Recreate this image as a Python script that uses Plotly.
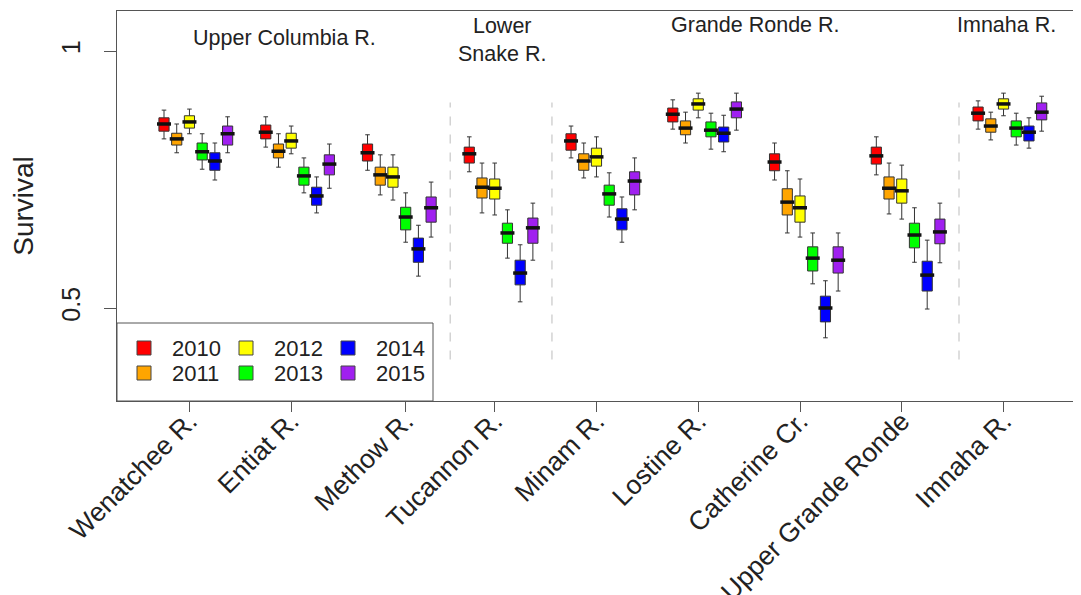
import plotly.graph_objects as go

# ---------------- data ----------------
SITES = ["Wenatchee R.", "Entiat R.", "Methow R.", "Tucannon R.", "Minam R.",
         "Lostine R.", "Catherine Cr.", "Upper Grande Ronde", "Imnaha R."]
YEARS = ["2010", "2011", "2012", "2013", "2014", "2015"]
COLORS = ["#FF0000", "#FFA500", "#FFFF00", "#00FF00", "#0000FF", "#A020F0"]
GROUPS = ["Upper Columbia R.", "Lower<br>Snake R.", "Grande Ronde R.", "Imnaha R."]

HIGH = {
    "2010": [0.885, 0.872, 0.837, 0.833, 0.854, 0.905, 0.821, 0.833, 0.903],
    "2011": [0.858, 0.839, 0.798, 0.782, 0.821, 0.881, 0.767, 0.782, 0.881],
    "2012": [0.887, 0.854, 0.798, 0.782, 0.833, 0.918, 0.751, 0.778, 0.918],
    "2013": [0.839, 0.792, 0.724, 0.691, 0.763, 0.879, 0.646, 0.695, 0.879],
    "2014": [0.821, 0.755, 0.661, 0.623, 0.716, 0.875, 0.553, 0.632, 0.870],
    "2015": [0.872, 0.819, 0.745, 0.704, 0.792, 0.918, 0.646, 0.704, 0.912],
}
Q3 = {
    "2010": [0.870, 0.856, 0.819, 0.813, 0.839, 0.889, 0.800, 0.813, 0.891],
    "2011": [0.840, 0.819, 0.774, 0.753, 0.800, 0.864, 0.732, 0.755, 0.868],
    "2012": [0.874, 0.840, 0.774, 0.751, 0.811, 0.907, 0.718, 0.751, 0.907],
    "2013": [0.821, 0.774, 0.696, 0.665, 0.739, 0.862, 0.619, 0.665, 0.864],
    "2014": [0.802, 0.735, 0.636, 0.593, 0.693, 0.852, 0.523, 0.591, 0.854],
    "2015": [0.854, 0.798, 0.716, 0.675, 0.765, 0.901, 0.619, 0.673, 0.899],
}
MEDIAN = {
    "2010": [0.858, 0.842, 0.802, 0.800, 0.825, 0.877, 0.784, 0.796, 0.879],
    "2011": [0.829, 0.805, 0.759, 0.735, 0.786, 0.850, 0.706, 0.733, 0.854],
    "2012": [0.862, 0.825, 0.755, 0.733, 0.794, 0.897, 0.695, 0.728, 0.897],
    "2013": [0.804, 0.757, 0.677, 0.646, 0.722, 0.846, 0.597, 0.642, 0.850],
    "2014": [0.786, 0.718, 0.615, 0.568, 0.673, 0.840, 0.500, 0.564, 0.842],
    "2015": [0.839, 0.780, 0.695, 0.656, 0.747, 0.887, 0.593, 0.648, 0.881],
}
Q1 = {
    "2010": [0.844, 0.829, 0.786, 0.782, 0.807, 0.862, 0.767, 0.780, 0.864],
    "2011": [0.817, 0.792, 0.739, 0.714, 0.768, 0.837, 0.681, 0.712, 0.842],
    "2012": [0.850, 0.811, 0.735, 0.712, 0.776, 0.885, 0.667, 0.704, 0.887],
    "2013": [0.788, 0.739, 0.652, 0.626, 0.700, 0.833, 0.572, 0.617, 0.833],
    "2014": [0.768, 0.700, 0.589, 0.545, 0.652, 0.823, 0.473, 0.533, 0.825],
    "2015": [0.817, 0.759, 0.667, 0.626, 0.720, 0.870, 0.568, 0.625, 0.866],
}
LOW = {
    "2010": [0.829, 0.813, 0.768, 0.765, 0.792, 0.848, 0.749, 0.759, 0.848],
    "2011": [0.802, 0.774, 0.720, 0.685, 0.753, 0.821, 0.646, 0.683, 0.827],
    "2012": [0.839, 0.800, 0.710, 0.681, 0.755, 0.870, 0.638, 0.673, 0.874],
    "2013": [0.770, 0.724, 0.628, 0.597, 0.677, 0.809, 0.547, 0.589, 0.817],
    "2014": [0.749, 0.685, 0.562, 0.512, 0.628, 0.804, 0.442, 0.498, 0.811],
    "2015": [0.802, 0.733, 0.638, 0.593, 0.691, 0.846, 0.533, 0.588, 0.844],
}

# ---------------- layout constants (window pixels) ----------------
OFF = 8                    # browser body margin
WIN_W, WIN_H = 1081, 595
W, H = WIN_W - OFF, WIN_H - OFF
PL, PR, PT, PB = 117, WIN_W, 11, 401   # plot-area edges in window pixels
ML, MR, MT, MB = PL - OFF, WIN_W - PR, PT - OFF, WIN_H - PB
FONT = "Liberation Sans, Arial, Helvetica, sans-serif"
TXT = "#222222"
AX = "#555555"
STEP = 8  # positions per site group

fig = go.Figure()

for k, yr in enumerate(YEARS):
    xs = [STEP * g + k for g in range(len(SITES))]
    fig.add_trace(go.Box(
        x=xs, q1=Q1[yr], median=MEDIAN[yr], q3=Q3[yr],
        lowerfence=LOW[yr], upperfence=HIGH[yr],
        width=0.8, whiskerwidth=0.45, boxpoints=False,
        fillcolor=COLORS[k], line=dict(color="#333333", width=1),
        name=yr, showlegend=False, hoverinfo="skip",
    ))
    fig.add_trace(go.Scatter(
        x=xs, y=MEDIAN[yr], mode="markers",
        marker=dict(symbol="line-ew", size=10, line=dict(color="#111111", width=3.5)),
        showlegend=False, hoverinfo="skip",
    ))

tickvals = [STEP * g + 2 for g in range(len(SITES))]
tickvals[2] += 1

UNIT = 12.72
x0 = -(164 - PL) / UNIT
x1 = x0 + (PR - PL) / UNIT

# separators between regions
shapes = []
for g in [3, 4, 8]:
    xv = STEP * g - 1.5
    shapes.append(dict(type="line", xref="x", yref="y", x0=xv, x1=xv, y0=0.4, y1=0.9,
                       line=dict(color="#c8c8c8", width=1.2, dash="dash")))

# manual legend
pw, ph = PR - PL, PB - PT
px = lambda v: (v - PL) / pw
py = lambda v: (PB - v) / ph
shapes.append(dict(type="rect", xref="paper", yref="paper", x0=0, x1=px(433), y0=0, y1=py(323),
                   line=dict(color=AX, width=1), fillcolor="white", layer="below"))
annotations = []
col_sq = [144, 246, 348]
row_y = [348, 373]
for k, yr in enumerate(YEARS):
    c, r = k // 2, k % 2
    cx, cy = col_sq[c], row_y[r]
    shapes.append(dict(type="rect", xref="paper", yref="paper",
                       x0=px(cx - 7), x1=px(cx + 7), y0=py(cy + 7), y1=py(cy - 7),
                       fillcolor=COLORS[k], line=dict(color="#444444", width=1)))
    annotations.append(dict(xref="paper", yref="paper", x=px(cx + 26), y=py(cy),
                            text=yr, showarrow=False, xanchor="left", yanchor="middle",
                            font=dict(size=22, color=TXT, family=FONT)))

# region labels
group_pos = [(9.5, 1.025), (26.6, 1.022), (46.5, 1.051), (66.2, 1.051)]
for name, (gx, gy) in zip(GROUPS, group_pos):
    annotations.append(dict(xref="x", yref="y", x=gx, y=gy, text=name, showarrow=False,
                            xanchor="center", yanchor="middle",
                            font=dict(size=21.5, color=TXT, family=FONT)))

fig.update_layout(
    width=W, height=H,
    margin=dict(l=ML, r=MR, t=MT, b=MB, pad=0, autoexpand=False),
    paper_bgcolor="white", plot_bgcolor="white",
    boxmode="overlay",
    showlegend=False,
    shapes=shapes, annotations=annotations,
    font=dict(family=FONT, color=TXT),
    xaxis=dict(range=[x0, x1], tickmode="array", tickvals=tickvals, ticktext=SITES,
               tickangle=-45, ticks="outside", ticklen=10, tickcolor=AX,
               ticklabelstandoff=-17,
               showline=True, linecolor=AX, linewidth=1.2, mirror=True, automargin=False,
               showgrid=False, zeroline=False, tickfont=dict(size=26.5, color=TXT)),
    yaxis=dict(range=[(565 - PB) / 514, (565 - PT) / 514],
               tickmode="array", tickvals=[0.5, 1], ticktext=["0.5", "1"],
               tickangle=-90, ticks="outside", ticklen=12, tickcolor=AX,
               ticklabelstandoff=14, automargin=False,
               showline=True, linecolor=AX, linewidth=1.2,
               showgrid=False, zeroline=False, tickfont=dict(size=25, color=TXT),
               title=dict(text="Survival", font=dict(size=28, color=TXT), standoff=20)),
)

fig.write_html("out.html")
